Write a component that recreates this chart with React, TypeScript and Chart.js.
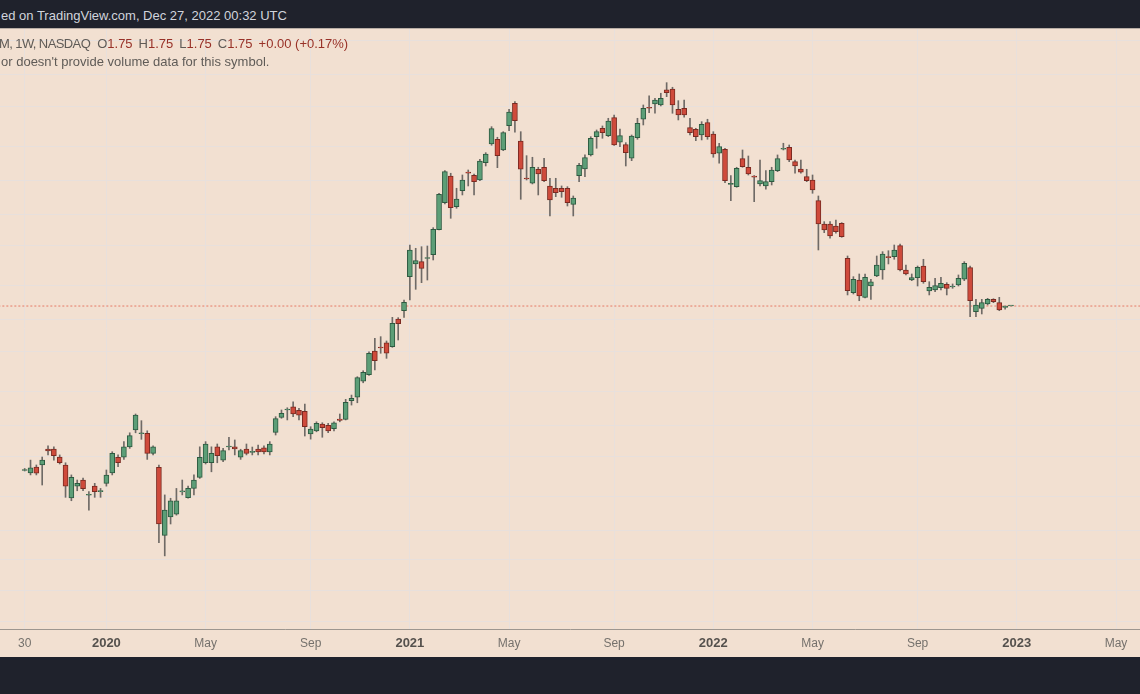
import React, { useEffect, useRef } from 'react';
import { Chart, registerables } from 'chart.js';

Chart.register(...registerables);

// Weekly candles, week 0 = week of 30 Sep 2019
const opens = [
  0.594, 0.585, 0.608, 0.616, 0.684, 0.684, 0.649, 0.616, 0.496, 0.536,
  0.558, 0.505, 0.536, 0.517, 0.546, 0.585, 0.648, 0.648, 0.694, 0.775,
  0.756, 0.758, 0.665, 0.607, 0.388, 0.438, 0.446, 0.516, 0.497, 0.528,
  0.568, 0.625, 0.625, 0.694, 0.636, 0.693, 0.694, 0.648, 0.684, 0.669,
  0.684, 0.689, 0.671, 0.763, 0.842, 0.884, 0.903, 0.882, 0.876, 0.755,
  0.771, 0.806, 0.799, 0.782, 0.833, 0.831, 0.940, 0.961, 1.069, 1.115,
  1.302, 1.337, 1.375, 1.340, 1.607, 1.697, 2.122, 2.307, 2.342, 2.391,
  2.452, 2.890, 3.451, 4.112, 3.361, 3.734, 4.221, 4.131, 4.005, 4.487,
  5.074, 5.233, 4.878, 5.722, 6.630, 5.175, 4.058, 3.920, 4.297, 4.354,
  3.851, 3.793, 3.793, 3.793, 3.414, 4.120, 4.305, 4.721, 5.323, 5.625,
  5.359, 6.032, 5.132, 5.051, 4.619, 5.289, 5.969, 6.458, 6.600, 6.556,
  7.236, 7.283, 6.374, 6.416, 5.648, 5.589, 5.383, 5.836, 5.419, 4.774,
  4.901, 3.889, 3.833, 4.607, 4.354, 4.112, 3.902, 3.851, 3.961, 4.258,
  4.901, 4.965, 4.517, 4.305, 4.093, 4.005, 3.496, 3.000, 3.000, 2.961,
  3.014, 2.395, 1.910, 2.076, 1.853, 1.996, 2.132, 2.217, 2.420, 2.420,
  2.601, 2.217, 2.076, 2.108, 2.276, 1.932, 1.944, 1.974, 2.019, 1.983,
  2.009, 2.086, 2.251, 1.686, 1.724, 1.773, 1.829, 1.789, 1.735, 1.75,
];
const highs = [
  0.602, 0.636, 0.616, 0.649, 0.698, 0.694, 0.658, 0.625, 0.577, 0.558,
  0.565, 0.517, 0.546, 0.528, 0.596, 0.672, 0.658, 0.718, 0.761, 0.861,
  0.824, 0.771, 0.698, 0.616, 0.506, 0.495, 0.528, 0.558, 0.536, 0.577,
  0.694, 0.718, 0.694, 0.707, 0.687, 0.739, 0.726, 0.683, 0.707, 0.693,
  0.702, 0.698, 0.718, 0.846, 0.884, 0.897, 0.933, 0.894, 0.919, 0.792,
  0.818, 0.813, 0.810, 0.818, 0.861, 0.948, 0.975, 1.100, 1.144, 1.296,
  1.416, 1.431, 1.391, 1.625, 1.621, 1.821, 2.613, 2.557, 2.584, 2.596,
  2.928, 3.670, 4.258, 4.186, 3.793, 4.139, 4.277, 4.167, 4.589, 4.792,
  5.685, 5.303, 5.501, 6.374, 6.700, 5.501, 4.699, 4.650, 4.354, 4.619,
  4.050, 4.050, 3.851, 3.833, 3.606, 4.470, 4.721, 5.323, 5.563, 5.711,
  6.007, 6.139, 5.600, 5.118, 5.383, 6.007, 6.556, 6.956, 6.851, 7.080,
  7.591, 7.365, 6.744, 6.775, 6.007, 5.625, 5.875, 5.969, 5.501, 5.098,
  4.933, 4.120, 4.354, 4.878, 4.689, 4.125, 4.568, 4.258, 4.354, 4.721,
  5.098, 5.041, 4.568, 4.568, 4.297, 4.139, 3.606, 3.046, 3.046, 3.080,
  3.026, 2.431, 2.122, 2.160, 2.160, 2.086, 2.431, 2.501, 2.517, 2.613,
  2.630, 2.291, 2.160, 2.276, 2.379, 2.053, 2.100, 2.114, 2.040, 2.023,
  2.146, 2.342, 2.276, 1.829, 1.829, 1.841, 1.836, 1.853, 1.752, 1.75,
];
const lows = [
  0.592, 0.577, 0.577, 0.540, 0.658, 0.636, 0.620, 0.498, 0.487, 0.520,
  0.520, 0.458, 0.498, 0.498, 0.536, 0.577, 0.609, 0.639, 0.687, 0.761,
  0.729, 0.639, 0.658, 0.370, 0.339, 0.418, 0.443, 0.506, 0.495, 0.506,
  0.564, 0.620, 0.589, 0.625, 0.629, 0.680, 0.658, 0.639, 0.658, 0.658,
  0.658, 0.662, 0.658, 0.750, 0.837, 0.828, 0.846, 0.828, 0.745, 0.730,
  0.766, 0.739, 0.761, 0.771, 0.818, 0.828, 0.913, 0.927, 1.057, 1.110,
  1.150, 1.283, 1.241, 1.334, 1.400, 1.625, 1.821, 1.953, 2.040, 2.076,
  2.368, 2.884, 3.421, 3.114, 3.326, 3.630, 3.851, 3.630, 3.987, 4.391,
  5.031, 4.342, 4.856, 5.538, 5.480, 3.528, 4.005, 3.902, 3.630, 3.960,
  3.162, 3.589, 3.575, 3.376, 3.162, 3.961, 4.093, 4.689, 4.933, 5.268,
  5.323, 5.024, 4.985, 4.391, 4.547, 5.233, 5.749, 6.233, 6.208, 6.514,
  6.924, 6.208, 5.941, 6.047, 5.383, 5.186, 5.210, 5.233, 4.650, 4.470,
  3.935, 3.496, 3.818, 4.354, 4.139, 3.473, 3.851, 3.768, 3.876, 4.230,
  4.878, 4.517, 4.186, 4.186, 3.961, 3.670, 2.529, 2.833, 2.731, 2.822,
  2.749, 1.882, 1.894, 1.812, 1.845, 1.829, 2.122, 2.086, 2.307, 2.379,
  2.203, 2.146, 2.067, 1.996, 2.032, 1.882, 1.923, 1.944, 1.882, 1.966,
  1.996, 2.067, 1.632, 1.632, 1.661, 1.762, 1.789, 1.697, 1.713, 1.75,
];
const closes = [
  0.598, 0.605, 0.584, 0.636, 0.675, 0.655, 0.625, 0.536, 0.568, 0.546,
  0.527, 0.508, 0.517, 0.521, 0.576, 0.665, 0.625, 0.694, 0.747, 0.855,
  0.760, 0.665, 0.694, 0.418, 0.458, 0.487, 0.487, 0.518, 0.528, 0.558,
  0.648, 0.707, 0.665, 0.655, 0.677, 0.696, 0.684, 0.677, 0.665, 0.673,
  0.671, 0.671, 0.707, 0.835, 0.865, 0.887, 0.861, 0.855, 0.792, 0.780,
  0.810, 0.787, 0.770, 0.813, 0.826, 0.930, 0.954, 1.093, 1.132, 1.283,
  1.222, 1.328, 1.283, 1.562, 1.558, 1.793, 2.529, 2.357, 2.242, 2.407,
  2.897, 3.646, 4.230, 3.339, 3.535, 4.005, 4.186, 3.961, 4.538, 4.751,
  5.611, 4.699, 5.466, 6.261, 5.914, 4.297, 4.032, 4.354, 4.167, 3.987,
  3.512, 3.685, 3.709, 3.451, 3.559, 4.411, 4.638, 5.268, 5.501, 5.466,
  5.902, 5.041, 5.359, 4.792, 5.348, 5.814, 6.416, 6.416, 6.775, 6.851,
  7.108, 6.556, 6.139, 6.139, 5.466, 5.323, 5.775, 5.323, 4.751, 4.985,
  3.987, 3.915, 4.325, 4.371, 4.167, 4.077, 3.987, 3.961, 4.277, 4.607,
  4.933, 4.568, 4.391, 4.213, 3.987, 3.751, 3.000, 2.884, 2.772, 2.852,
  2.760, 1.935, 2.086, 1.869, 2.114, 2.053, 2.291, 2.463, 2.404, 2.529,
  2.217, 2.160, 2.108, 2.257, 2.053, 1.979, 2.000, 2.032, 1.966, 1.996,
  2.100, 2.317, 1.812, 1.762, 1.789, 1.829, 1.800, 1.705, 1.747, 1.75,
];

const tickWeeks = [0, 14, 31, 49, 66, 83, 101, 118, 135, 153, 170, 187];
const tickLabels = ['30', '2020', 'May', 'Sep', '2021', 'May', 'Sep', '2022', 'May', 'Sep', '2023', 'May'];
const yearTicks = [14, 66, 118, 170];
const gridPrices = [10, 8, 6.5, 5, 4, 3.2, 2.6, 2, 1.6, 1.3, 1, 0.8, 0.65, 0.5, 0.4, 0.33, 0.27, 0.22];
const lastPrice = 1.75;

const UP_FILL = '#5c9e77';
const UP_LINE = '#2d5a40';
const DOWN_FILL = '#cf4a3b';
const DOWN_LINE = '#7b2a21';
const WICK = '#6f6a66';
const GRID = '#e8e0dc';
const BG = '#f2e0d1';
const DARK = '#1f222c';
const FONT = '"Liberation Sans", Arial, sans-serif';

export default function App() {
  const ref = useRef<HTMLCanvasElement | null>(null);

  useEffect(() => {
    const canvas = ref.current;
    if (!canvas) return;
    const up = opens.map((o, i) => closes[i] >= o);
    const chart = new Chart(canvas, {
      type: 'bar',
      data: {
        datasets: [
          {
            type: 'bar',
            label: 'body',
            data: opens.map((o, i) => ({ x: i, y: [o, closes[i]] })) as any,
            backgroundColor: up.map((u) => (u ? UP_FILL : DOWN_FILL)),
            borderColor: up.map((u) => (u ? UP_LINE : DOWN_LINE)),
            borderWidth: 1,
            borderSkipped: false,
            barThickness: 5,
            minBarLength: 1,
            grouped: false,
            order: 0,
          } as any,
          {
            type: 'bar',
            label: 'wick',
            data: lows.map((l, i) => ({ x: i, y: [l, highs[i]] })) as any,
            backgroundColor: WICK,
            borderWidth: 0,
            barThickness: 1,
            grouped: false,
            order: 1,
          } as any,
          {
            type: 'line',
            label: 'last',
            data: [
              { x: -10, y: lastPrice },
              { x: 200, y: lastPrice },
            ],
            borderColor: '#e67a68',
            borderWidth: 1,
            borderDash: [2, 2],
            pointRadius: 0,
            order: 2,
          } as any,
        ],
      },
      options: {
        responsive: false,
        maintainAspectRatio: false,
        animation: false,
        devicePixelRatio: 1,
        events: [],
        layout: { padding: 0 },
        plugins: { legend: { display: false }, tooltip: { enabled: false } },
        scales: {
          x: {
            type: 'linear',
            min: -4.23,
            max: 191.11,
            offset: false,
            afterBuildTicks: (axis: any) => {
              axis.ticks = tickWeeks.map((v) => ({ value: v }));
            },
            afterFit: (axis: any) => {
              axis.height = 28;
            },
            grid: { color: GRID, drawTicks: false, offset: false, lineWidth: 1 },
            border: { display: true, color: '#9d968f', width: 1 },
            ticks: {
              autoSkip: false,
              maxRotation: 0,
              padding: 7,
              callback: (value: any) => {
                const k = tickWeeks.indexOf(Number(value));
                return k >= 0 ? tickLabels[k] : '';
              },
              font: (ctx: any) => ({
                family: FONT,
                size: yearTicks.includes(ctx.tick && ctx.tick.value) ? 13 : 12,
                weight: yearTicks.includes(ctx.tick && ctx.tick.value) ? 'bold' : 'normal',
              }),
              color: (ctx: any) => (yearTicks.includes(ctx.tick && ctx.tick.value) ? '#55514d' : '#75716c'),
            },
          },
          y: {
            type: 'logarithmic',
            position: 'right',
            min: 0.2097,
            max: 10.87,
            afterBuildTicks: (axis: any) => {
              axis.ticks = gridPrices.map((v) => ({ value: v }));
            },
            afterFit: (axis: any) => {
              axis.width = 0;
            },
            grid: { color: GRID, drawTicks: false, lineWidth: 1 },
            border: { display: false },
            ticks: { display: false },
          },
        },
      } as any,
    });
    return () => chart.destroy();
  }, []);

  const labelStyle: React.CSSProperties = { color: '#5f5b57' };
  const valStyle: React.CSSProperties = { color: '#983128' };
  const gap: React.CSSProperties = { marginLeft: 6 };

  return (
    <div
      style={{
        position: 'fixed',
        left: 0,
        top: 0,
        width: 1140,
        height: 694,
        background: DARK,
        overflow: 'hidden',
        fontFamily: FONT,
      }}
    >
      <div
        style={{
          position: 'absolute',
          left: 1,
          top: 7,
          height: 18,
          lineHeight: '18px',
          fontSize: 13,
          color: '#d1d4dc',
          whiteSpace: 'nowrap',
        }}
      >
        ed on TradingView.com, Dec 27, 2022 00:32 UTC
      </div>
      <div style={{ position: 'absolute', left: 0, top: 28, width: 1140, height: 629, background: BG }}>
        <canvas ref={ref} width={1140} height={629} style={{ display: 'block', width: 1140, height: 629 }} />
      </div>
      <div style={{ position: 'absolute', left: 0, top: 28, width: 1140, height: 1, background: '#b8aea6' }} />
      <div
        style={{
          position: 'absolute',
          left: -1,
          top: 35,
          lineHeight: '18px',
          fontSize: 13,
          whiteSpace: 'nowrap',
        }}
      >
        <span style={{ ...labelStyle, letterSpacing: '-0.6px' }}>M, 1W, NASDAQ</span>
        <span style={{ ...labelStyle, marginLeft: 7 }}>O</span>
        <span style={valStyle}>1.75</span>
        <span style={{ ...labelStyle, ...gap }}>H</span>
        <span style={valStyle}>1.75</span>
        <span style={{ ...labelStyle, ...gap }}>L</span>
        <span style={valStyle}>1.75</span>
        <span style={{ ...labelStyle, ...gap }}>C</span>
        <span style={valStyle}>1.75</span>
        <span style={{ ...valStyle, ...gap }}>+0.00 (+0.17%)</span>
      </div>
      <div
        style={{
          position: 'absolute',
          left: 1,
          top: 53,
          lineHeight: '18px',
          fontSize: 13,
          color: '#5f5b57',
          whiteSpace: 'nowrap',
        }}
      >
        or doesn't provide volume data for this symbol.
      </div>
    </div>
  );
}
